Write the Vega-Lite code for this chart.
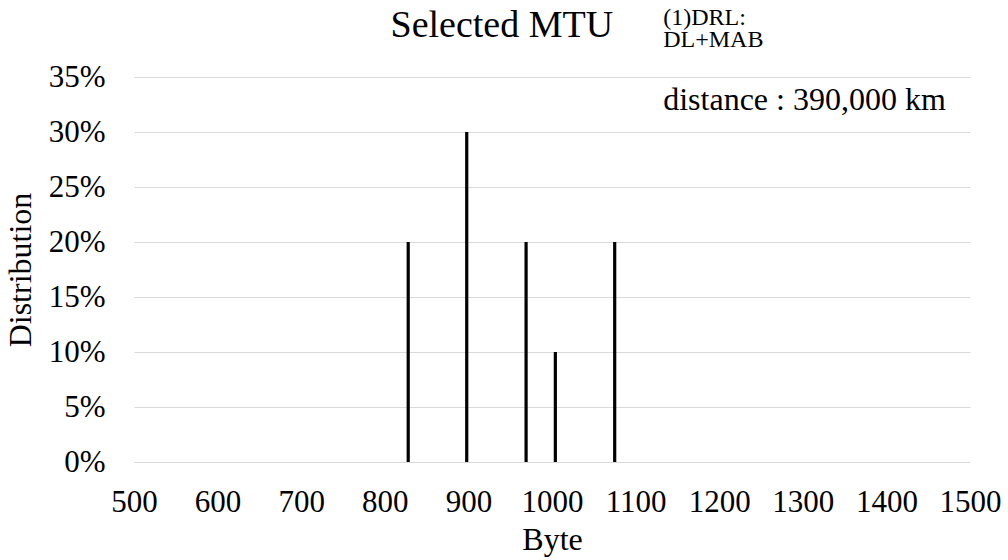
{
  "$schema": "https://vega.github.io/schema/vega-lite/v6.json",
  "autosize": "none",
  "width": 836,
  "height": 385,
  "padding": {"left": 134, "top": 77, "right": 38, "bottom": 98},
  "background": "white",
  "config": {
    "font": "Liberation Serif",
    "view": {"stroke": null}
  },
  "datasets": {
    "mtu": [
      {"byte": 828, "share": 0.2},
      {"byte": 898, "share": 0.3},
      {"byte": 969, "share": 0.2},
      {"byte": 1004, "share": 0.1},
      {"byte": 1075, "share": 0.2}
    ],
    "heading": [
      {"byte": 940, "share": 0.3864, "label": "Selected MTU"}
    ],
    "method": [
      {"byte": 1133, "share": 0.3973, "label": "(1)DRL:"},
      {"byte": 1133, "share": 0.3773, "label": "DL+MAB"}
    ],
    "distance": [
      {"byte": 1133, "share": 0.32, "label": "distance : 390,000 km"}
    ]
  },
  "encoding": {
    "x": {
      "field": "byte",
      "type": "quantitative",
      "scale": {"domain": [500, 1500], "nice": false, "zero": false},
      "axis": {
        "title": "Byte",
        "format": "d",
        "values": [500, 600, 700, 800, 900, 1000, 1100, 1200, 1300, 1400, 1500],
        "grid": false,
        "ticks": false,
        "domain": false,
        "labelFont": "Liberation Serif",
        "labelFontSize": 31,
        "labelColor": "black",
        "labelPadding": 25,
        "labelFlush": false,
        "labelOverlap": false,
        "titleFont": "Liberation Serif",
        "titleFontSize": 32,
        "titleFontWeight": "normal",
        "titleColor": "black",
        "titlePadding": 7
      }
    },
    "y": {
      "field": "share",
      "type": "quantitative",
      "scale": {"domain": [0, 0.35], "nice": false},
      "axis": {
        "title": "Distribution",
        "format": ".0%",
        "values": [0, 0.05, 0.1, 0.15, 0.2, 0.25, 0.3, 0.35],
        "grid": true,
        "gridColor": "#d9d9d9",
        "gridWidth": 1.2,
        "ticks": false,
        "domain": false,
        "labelFont": "Liberation Serif",
        "labelFontSize": 31,
        "labelColor": "black",
        "labelPadding": 29,
        "labelFlush": false,
        "titleFont": "Liberation Serif",
        "titleFontSize": 32,
        "titleFontWeight": "normal",
        "titleColor": "black",
        "titlePadding": 11
      }
    }
  },
  "layer": [
    {
      "data": {"name": "mtu"},
      "mark": {"type": "rule", "color": "black", "strokeWidth": 3.2, "strokeCap": "butt"},
      "encoding": {"y2": {"datum": 0}}
    },
    {
      "data": {"name": "heading"},
      "mark": {"type": "text", "align": "center", "baseline": "alphabetic", "fontSize": 38, "color": "black", "font": "Liberation Serif", "clip": false},
      "encoding": {"text": {"field": "label"}}
    },
    {
      "data": {"name": "method"},
      "mark": {"type": "text", "align": "left", "baseline": "alphabetic", "fontSize": 24, "color": "black", "font": "Liberation Serif", "clip": false},
      "encoding": {"text": {"field": "label"}}
    },
    {
      "data": {"name": "distance"},
      "mark": {"type": "text", "align": "left", "baseline": "alphabetic", "fontSize": 32, "color": "black", "font": "Liberation Serif", "clip": false},
      "encoding": {"text": {"field": "label"}}
    }
  ]
}
